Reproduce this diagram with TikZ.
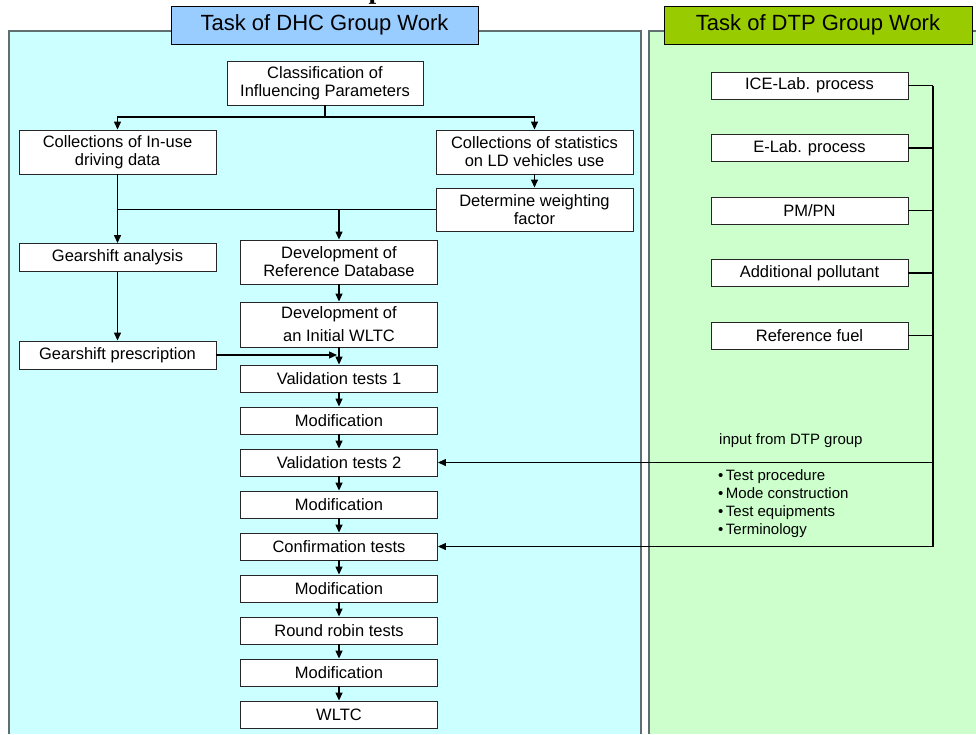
\documentclass[tikz,border=0pt]{standalone}
\usepackage{fontspec}
\setmainfont{Liberation Sans}
\newfontfamily\titlefont{Liberation Serif}
\usetikzlibrary{positioning,calc,arrows.meta}
\definecolor{dhcpanel}{HTML}{CCFFFF}
\definecolor{dtppanel}{HTML}{CCFFCC}
\definecolor{dhchead}{HTML}{99CCFF}
\definecolor{dtphead}{HTML}{99CC00}
\definecolor{panelrim}{HTML}{5F6F6F}

\begin{document}
\begin{tikzpicture}[x=1pt, y=-1pt,
    task/.style={draw=black!85, fill=white, line width=0.9pt, minimum width=197, minimum height=27,
                 inner sep=0pt, align=center, font=\fontsize{16.5}{18}\selectfont},
    head/.style={draw, line width=1pt, minimum width=307, minimum height=38, inner sep=0pt,
                 font=\fontsize{22}{24}\selectfont},
    flow/.style={line width=1.3pt, -{Triangle[length=8pt,width=7pt]}},
    link/.style={line width=1.3pt}]
    \useasboundingbox (0,0) rectangle (976,734);

    % Title (cut off at the top)
    \node [anchor=base west, inner sep=0pt, font=\titlefont\bfseries\fontsize{27.5}{30}\selectfont]
        (title) at (12,-1.5) {Overview of the WLTC development};

    % Panels
    \fill [dhcpanel] (9,31) rectangle (641,734);
    \draw [panelrim, line width=1.6pt] (9,734) -- (9,31) -- (641,31) -- (641,734);
    \fill [dtppanel] (649,31) rectangle (976,734);
    \draw [panelrim, line width=1.6pt] (649,734) -- (649,31) -- (976,31);
    \node [head, fill=dhchead] (dhc) at (324.5,25) {Task of DHC Group Work};
    \node [head, fill=dtphead, minimum width=308] (dtp) at (818,25) {Task of DTP Group Work};

    % DHC tasks
    \node [task, minimum width=196, minimum height=44] (cls) at (325,83) {Classification of\\Influencing Parameters};
    \node [task, minimum height=44] (inuse) at (117.5,152) {Collections of In-use\\driving data};
    \node [task, minimum height=44] (stats) at (534.5,152) {Collections of statistics\\on LD vehicles use};
    \node [task, minimum height=43] (weight) at (534.5,209.5) {Determine weighting\\factor};
    \node [task, minimum height=28] (gsa) at (117.5,257.5) {Gearshift analysis};
    \node [task, minimum height=44] (refdb) at (339,262) {Development of\\Reference Database};
    \node [task, minimum height=45] (init) at (339,324.5) {Development of\\[5pt]an Initial WLTC};
    \node [task, minimum height=28] (gsp) at (117.5,355) {Gearshift prescription};
    \node [task] (val1) at (339,378.5) {Validation tests 1};
    \node [task] (mod1) at (339,420.5) {Modification};
    \node [task] (val2) at (339,462.5) {Validation tests 2};
    \node [task] (mod2) at (339,504.5) {Modification};
    \node [task] (conf) at (339,546.5) {Confirmation tests};
    \node [task] (mod3) at (339,588.5) {Modification};
    \node [task] (rr) at (339,630.5) {Round robin tests};
    \node [task] (mod4) at (339,672.5) {Modification};
    \node [task] (wltc) at (339,714.5) {WLTC};

    % DHC connectors
    \coordinate (split) at (325,117);
    \coordinate (merge) at (117.5,209.5);
    \coordinate (refin) at (339,209.5);
    \draw [link] (cls) -- (split);
    \draw [flow] (split) -| (inuse);
    \draw [flow] (split) -| (stats);
    \draw [flow] (stats) -- (weight);
    \draw [link] (inuse) -- (merge) -- (weight);
    \draw [flow] (merge) -- (gsa);
    \draw [flow] (refin) -- (refdb);
    \draw [flow] (gsa) -- (gsp);
    \draw [flow, shorten >=2pt] (gsp) -- (gsp -| init.center);
    \foreach \a/\b in {refdb/init, init/val1, val1/mod1, mod1/val2, val2/mod2,
                       mod2/conf, conf/mod3, mod3/rr, rr/mod4, mod4/wltc}
        \draw [flow] (\a) -- (\b);

    % DTP tasks
    \node [task] (ice) at (809.5,85.5) {ICE-Lab. process};
    \node [task] (elab) at (809.5,148) {E-Lab. process};
    \node [task] (pmpn) at (809.5,210.5) {PM/PN};
    \node [task] (addp) at (809.5,273) {Additional pollutant};
    \node [task] (reff) at (809.5,335.5) {Reference fuel};

    % Input from DTP group
    \coordinate (bustop) at (933,85.5);
    \coordinate (busbot) at (933,546.5);
    \foreach \n in {ice, elab, pmpn, addp, reff}
        \draw [link] (\n.east) -- (\n.east -| bustop);
    \draw [link] (bustop) -- (busbot);
    \draw [flow] (busbot) -- (conf);
    \draw [flow] (val2 -| bustop) -- (val2);
    \node [anchor=west, inner sep=0pt, font=\fontsize{15}{18}\selectfont] (inp) at (719,441) {input from DTP group};
    \node [anchor=north west, inner sep=0pt, align=left, font=\fontsize{15}{18}\selectfont]
        (items) at (718,469) {\textbullet\,Test procedure\\\textbullet\,Mode construction\\\textbullet\,Test equipments\\\textbullet\,Terminology};
\end{tikzpicture}
\end{document}
